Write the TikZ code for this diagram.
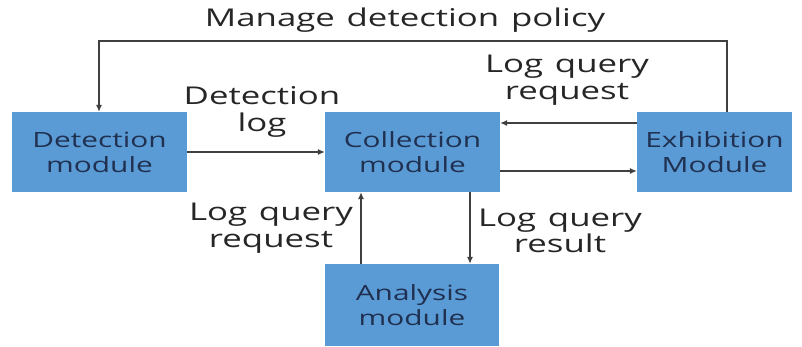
\documentclass[tikz,border=0pt]{standalone}
\usepackage{fontspec}
\setmainfont{Open Sans}
\newfontfamily\widefont[FakeStretch=1.42,WordSpace=1.3]{Open Sans}
\usetikzlibrary{arrows.meta}
\definecolor{boxfill}{HTML}{5B9BD5}
\definecolor{boxtext}{HTML}{1F3050}
\definecolor{linec}{HTML}{404040}
\begin{document}
\begin{tikzpicture}[x=1pt,y=-1pt,
  modbox/.style={draw=none,fill=boxfill,minimum width=175pt,minimum height=80pt,inner sep=0pt,
    align=center,text=boxtext,font=\widefont\fontsize{21}{25}\selectfont},
  lbl/.style={align=center,text=black!85,font=\widefont\fontsize{24.5}{26.5}\selectfont,inner sep=0pt},
  conn/.style={draw=linec,line width=1.1pt,-{Latex[length=7pt,width=6pt]}}]
\useasboundingbox (0,0) rectangle (802,347);
\node[modbox] (det) at (99.5,152) {Detection\\module};
\node[modbox] (col) at (412.5,152) {Collection\\module};
\node[modbox,minimum width=155pt] (exh) at (714.5,152.5) {Exhibition\\Module};
\node[modbox,minimum width=174pt,minimum height=82pt] (ana) at (412,305) {Analysis\\module};
\coordinate (tl) at (99,41);
\coordinate (tr) at (727,41);
\draw[conn] (exh.north -| tr) -- (tr) -- (tl) -- (det.north -| tl);
\draw[conn] (det.east |- 0,152) -- (col.west |- 0,152);
\draw[conn] (exh.west |- 0,123) -- (col.east |- 0,123);
\draw[conn] (col.east |- 0,171) -- (exh.west |- 0,171);
\draw[conn] (ana.north -| 361,0) -- (col.south -| 361,0);
\draw[conn] (col.south -| 470,0) -- (ana.north -| 470,0);
\node[lbl] (tmng) at (405,20) {Manage detection policy};
\node[lbl] (tdet) at (262,112) {Detection\\log};
\node[lbl] (treq1) at (567,80) {Log query\\request};
\node[lbl] (treq2) at (271,228) {Log query\\request};
\node[lbl] (tres) at (560,231) {Log query\\result};
\end{tikzpicture}
\end{document}
